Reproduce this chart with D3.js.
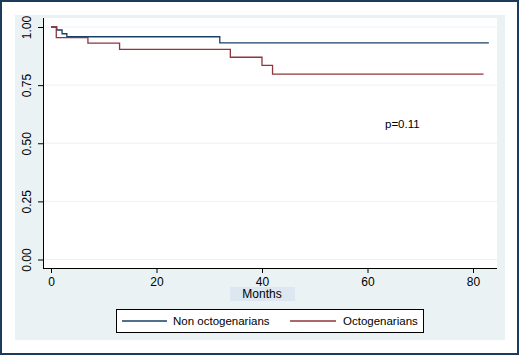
<!DOCTYPE html>
<html>
<head>
<meta charset="utf-8">
<script src="https://cdn.jsdelivr.net/npm/d3@7"></script>
<style>
  body { margin: 0; background: #fff; }
  text { font-family: "Liberation Sans", Arial, sans-serif; }
</style>
</head>
<body>
<div id="chart"></div>
<script>
// Kaplan-Meier step data (months, survival)
const nonOctoTimes = [0, 1.1, 2.1, 3.0, 32, 83];
const nonOctoSurv = [1, 0.987, 0.971, 0.958, 0.932, 0.932];
const octoTimes = [0, 1, 7, 13, 34, 40, 42, 82];
const octoSurv = [1, 0.954, 0.931, 0.904, 0.870, 0.835, 0.797, 0.797];
const xTicks = [0, 20, 40, 60, 80];
const yTicks = [0, 0.25, 0.5, 0.75, 1];
const legendLabels = ['Non octogenarians', 'Octogenarians'];
const seriesColors = ['#1a3f66', '#90353b'];

const W = 519, H = 355;
const plot = { left: 43, right: 497, top: 18, bottom: 268 };

const svg = d3.select('#chart').append('svg')
  .attr('width', W)
  .attr('height', H);

// outer frame
svg.append('rect').attr('x', 1).attr('y', 1).attr('width', W - 2).attr('height', H - 2)
  .attr('fill', '#fff').attr('stroke', '#1c3a5a').attr('stroke-width', 2);
// graph region
svg.append('rect').attr('x', 15).attr('y', 15).attr('width', 490).attr('height', 325)
  .attr('fill', '#eaf2f3');
// plot region
svg.append('rect').attr('x', plot.left).attr('y', plot.top)
  .attr('width', plot.right - plot.left).attr('height', plot.bottom - plot.top)
  .attr('fill', '#fff');

const x = d3.scaleLinear().domain([0, 80]).range([51, 473]);
const y = d3.scaleLinear().domain([0, 1]).range([259.5, 27]);

// grid lines
svg.append('g').selectAll('line')
  .data(yTicks)
  .enter().append('line')
  .attr('x1', plot.left).attr('x2', plot.right)
  .attr('y1', d => y(d)).attr('y2', d => y(d))
  .attr('stroke', '#eaf2f3').attr('stroke-width', 1);

// y axis
const yAxis = svg.append('g')
  .attr('transform', `translate(${plot.left},0)`)
  .call(d3.axisLeft(y).tickValues(yTicks).tickFormat(d3.format('.2f')).tickSize(5).tickPadding(0));
yAxis.select('.domain').remove();
yAxis.selectAll('.tick line').attr('stroke', '#000');
yAxis.selectAll('.tick text')
  .attr('transform', 'translate(-16,0) rotate(-90)')
  .attr('text-anchor', 'middle')
  .attr('x', 0).attr('dy', '0.35em')
  .attr('font-size', 12).attr('fill', '#000');
svg.append('line').attr('x1', plot.left + 0.5).attr('x2', plot.left + 0.5)
  .attr('y1', plot.top).attr('y2', plot.bottom).attr('stroke', '#000');

// x axis
const xAxis = svg.append('g')
  .attr('transform', `translate(0,${plot.bottom})`)
  .call(d3.axisBottom(x).tickValues(xTicks).tickSize(5).tickPadding(4));
xAxis.select('.domain').remove();
xAxis.selectAll('.tick line').attr('stroke', '#000');
xAxis.selectAll('.tick text').attr('font-size', 12).attr('fill', '#000');
svg.append('line').attr('x1', plot.left).attr('x2', plot.right)
  .attr('y1', plot.bottom + 0.5).attr('y2', plot.bottom + 0.5).attr('stroke', '#000');

// x title
svg.append('rect').attr('x', 230).attr('y', 287).attr('width', 65).attr('height', 14)
  .attr('fill', '#dce7f1');
svg.append('text').attr('x', 262).attr('y', 298)
  .attr('text-anchor', 'middle').attr('font-size', 12).text('Months');

// survival curves
const line = d3.line().x(d => x(d[0])).y(d => y(d[1])).curve(d3.curveStepAfter);
const series = [
  d3.zip(nonOctoTimes, nonOctoSurv),
  d3.zip(octoTimes, octoSurv)
];
svg.append('g').selectAll('path')
  .data(series)
  .enter().append('path')
  .attr('d', line)
  .attr('fill', 'none')
  .attr('stroke', (d, i) => seriesColors[i])
  .attr('stroke-width', 1.3);

// p-value
svg.append('text').attr('x', 385).attr('y', 128).attr('font-size', 11.5).text('p=0.11');

// legend
const lg = svg.append('g');
lg.append('rect').attr('x', 116.5).attr('y', 309.5).attr('width', 307).attr('height', 23)
  .attr('fill', '#fff').attr('stroke', '#000');
const legendPos = [{ x1: 122, x2: 167, tx: 173 }, { x1: 290, x2: 336, tx: 343 }];
legendLabels.forEach((lab, i) => {
  lg.append('line').attr('x1', legendPos[i].x1).attr('x2', legendPos[i].x2)
    .attr('y1', 321).attr('y2', 321)
    .attr('stroke', seriesColors[i]).attr('stroke-width', 1.3);
  lg.append('text').attr('x', legendPos[i].tx).attr('y', 325)
    .attr('font-size', 11.5).text(lab);
});
</script>
</body>
</html>
